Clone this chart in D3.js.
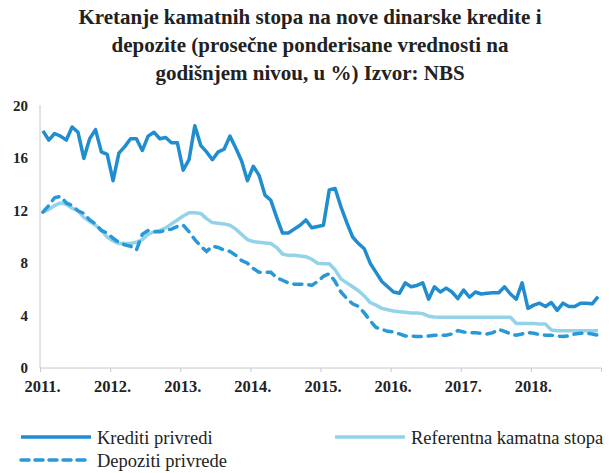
<!DOCTYPE html>
<html>
<head>
<meta charset="utf-8">
<script src="https://cdn.jsdelivr.net/npm/d3@7"></script>
<style>
  body { margin: 0; background: #fff; }
  text { font-family: "Liberation Serif", "Times New Roman", serif; }
</style>
</head>
<body>
<script>
// monthly values, Jan 2011 - Dec 2018
var krediti = [
  18.1, 17.4, 17.9, 17.7, 17.4, 18.4, 18.0, 16.0, 17.5, 18.2, 16.5, 16.3,
  14.3, 16.4, 16.9, 17.5, 17.5, 16.6, 17.7, 18.0, 17.5, 17.6, 17.2, 17.2,
  15.1, 15.9, 18.5, 17.0, 16.5, 15.9, 16.5, 16.7, 17.7, 16.8, 15.8, 14.3,
  15.4, 14.7, 13.2, 12.8, 11.5, 10.3, 10.3, 10.6, 10.9, 11.3, 10.7, 10.8,
  10.9, 13.6, 13.7, 12.3, 11.1, 10.0, 9.5, 9.1, 8.0, 7.3, 6.6, 6.2,
  5.8, 5.7, 6.5, 6.2, 6.3, 6.5, 5.25, 6.2, 5.8, 6.1, 5.8, 5.3,
  5.95, 5.4, 5.8, 5.65, 5.7, 5.75, 5.75, 6.2, 5.65, 5.25, 6.5, 4.55,
  4.8, 4.95, 4.7, 5.0, 4.4, 4.95, 4.7, 4.7, 4.95, 4.95, 4.9, 5.45
];
var referentna = [
  11.9, 12.1, 12.4, 12.6, 12.5, 12.2, 12.0, 11.5, 11.2, 10.9, 10.5, 10.0,
  9.7, 9.5, 9.5, 9.5, 9.6, 9.8, 10.2, 10.4, 10.5, 10.7, 11.0, 11.3,
  11.6, 11.85, 11.85, 11.8, 11.4, 11.1, 11.05, 11.0, 10.9, 10.6, 10.2, 9.8,
  9.65, 9.6, 9.55, 9.5, 9.2, 8.7, 8.6, 8.6, 8.55, 8.5, 8.3, 8.0,
  7.95, 7.95, 7.5, 6.8, 6.5, 6.2, 5.9, 5.5, 5.0, 4.8, 4.55, 4.45,
  4.35, 4.3, 4.25, 4.2, 4.2, 4.15, 3.95, 3.9, 3.87, 3.87, 3.87, 3.87,
  3.87, 3.87, 3.87, 3.87, 3.87, 3.87, 3.87, 3.87, 3.87, 3.4, 3.4, 3.4,
  3.4, 3.35, 3.35, 2.9, 2.85, 2.85, 2.85, 2.85, 2.85, 2.85, 2.85, 2.85
];
var depoziti = [
  11.9, 12.4, 13.0, 13.1, 12.6, 12.4, 12.0, 11.8, 11.3, 11.0, 10.5, 10.3,
  9.9, 9.6, 9.4, 9.3, 9.0, 10.2, 10.5, 10.4, 10.4, 10.5, 10.6, 10.8,
  10.9, 10.4, 9.8, 9.3, 8.9, 9.3, 9.2, 9.0, 8.9, 8.6, 8.2, 8.0,
  7.6, 7.3, 7.3, 7.3, 6.9, 6.7, 6.5, 6.4, 6.4, 6.4, 6.3, 6.6,
  7.0, 7.2, 6.6, 5.8, 5.3, 4.9, 4.7, 4.2, 3.6, 3.1, 2.95, 2.8,
  2.75, 2.6, 2.45, 2.45, 2.4, 2.4, 2.45, 2.5, 2.5, 2.5, 2.6, 2.85,
  2.75, 2.7, 2.7, 2.65, 2.6, 2.7, 2.95, 2.8, 2.6, 2.5, 2.6, 2.7,
  2.65, 2.55, 2.5, 2.5, 2.45, 2.4, 2.45, 2.6, 2.65, 2.65, 2.6, 2.5
];
var years = ["2011.", "2012.", "2013.", "2014.", "2015.", "2016.", "2017.", "2018."];
var yTicks = [0, 4, 8, 12, 16, 20];
var titleLines = [
  "Kretanje kamatnih stopa na nove dinarske kredite i",
  "depozite (prosečne ponderisane vrednosti na",
  "godišnjem nivou, u %) Izvor: NBS"
];

var width = 610, height = 473;
var plotLeft = 40, plotRight = 601, plotTop = 106, plotBottom = 368;
var cDark = "#1f8dcf", cLight = "#93d3ea", cDash = "#2898d8";

var svg = d3.select("body").append("svg").attr("width", width).attr("height", height);

svg.selectAll(".title").data(titleLines).enter()
  .append("text")
  .attr("x", 310)
  .attr("y", (d, i) => 24 + i * 28)
  .attr("text-anchor", "middle")
  .style("font-size", "21px")
  .style("font-weight", "bold")
  .style("fill", "#222")
  .text(d => d);

// months as a continuous scale, points in the middle of each month
var x = d3.scaleLinear().domain([0, years.length * 12]).range([plotLeft, plotRight]);
var y = d3.scaleLinear().domain([0, 20]).range([plotBottom, plotTop]);

// y axis: only a light line and bold labels
svg.append("line")
  .attr("x1", plotLeft).attr("x2", plotLeft).attr("y1", plotTop - 1).attr("y2", plotBottom)
  .style("stroke", "#c8c8c8").style("stroke-width", 1);
svg.selectAll(".ylab").data(yTicks).enter()
  .append("text")
  .attr("x", 28)
  .attr("y", d => y(d) + 5)
  .attr("text-anchor", "end")
  .style("font-size", "15px")
  .style("font-weight", "bold")
  .style("fill", "#222")
  .text(d => d);

// x axis
var xAxis = d3.axisBottom(x)
  .tickValues(d3.range(0, years.length * 12 + 1, 12))
  .tickSize(4)
  .tickFormat((d, i) => years[i] || "");
var gx = svg.append("g").attr("transform", "translate(0," + plotBottom + ")").call(xAxis);
gx.select(".domain").style("stroke", "#c8c8c8").attr("d", "M" + plotLeft + ",0H" + plotRight);
gx.selectAll(".tick line").style("stroke", "#c8c8c8");
gx.selectAll(".tick text")
  .attr("y", 12)
  .attr("dx", 2)
  .style("font-family", "'Liberation Serif', serif")
  .style("font-size", "16.5px")
  .style("font-weight", "bold")
  .style("fill", "#222");

var line = d3.line()
  .x((d, i) => x(i + 0.5))
  .y(d => y(d));

svg.append("path").datum(referentna)
  .attr("d", line)
  .style("fill", "none").style("stroke", cLight).style("stroke-width", 3.5)
  .style("stroke-linejoin", "round");
svg.append("path").datum(depoziti)
  .attr("d", line)
  .style("fill", "none").style("stroke", cDash).style("stroke-width", 3.5)
  .style("stroke-dasharray", "8,7").style("stroke-linecap", "round");
svg.append("path").datum(krediti)
  .attr("d", line)
  .style("fill", "none").style("stroke", cDark).style("stroke-width", 3.5)
  .style("stroke-linejoin", "round");

// legend
var legend = [
  { name: "Krediti privredi", color: cDark, dash: null, x: 21, y: 437 },
  { name: "Referentna kamatna stopa", color: cLight, dash: null, x: 335, y: 437 },
  { name: "Depoziti privrede", color: cDash, dash: "8,6", x: 21, y: 460 }
];
var lg = svg.selectAll(".leg").data(legend).enter().append("g");
lg.append("line")
  .attr("x1", d => d.x).attr("x2", d => d.x + 70)
  .attr("y1", d => d.y).attr("y2", d => d.y)
  .style("stroke", d => d.color).style("stroke-width", 3.5)
  .style("stroke-dasharray", d => d.dash)
  .style("stroke-linecap", d => d.dash ? "round" : "butt");
lg.append("text")
  .attr("x", d => d.x + 76)
  .attr("y", d => d.y + 7)
  .style("font-size", "18.5px")
  .style("fill", "#222")
  .text(d => d.name);
</script>
</body>
</html>
